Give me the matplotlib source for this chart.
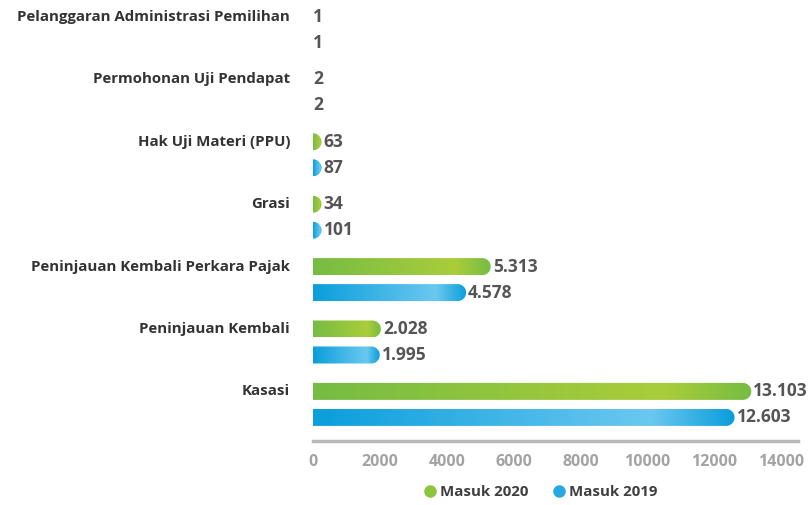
import numpy as np
import matplotlib
matplotlib.use("Agg")
import matplotlib.pyplot as plt
from matplotlib.path import Path
from matplotlib.patches import PathPatch
from matplotlib.colors import LinearSegmentedColormap
from matplotlib.lines import Line2D

plt.rcParams["font.family"] = ["Open Sans", "DejaVu Sans"]
plt.rcParams["font.weight"] = "bold"

categories = [
    "Pelanggaran Administrasi Pemilihan",
    "Permohonan Uji Pendapat",
    "Hak Uji Materi (PPU)",
    "Grasi",
    "Peninjauan Kembali Perkara Pajak",
    "Peninjauan Kembali",
    "Kasasi",
]
masuk_2020 = [1, 2, 63, 34, 5313, 2028, 13103]
masuk_2019 = [1, 2, 87, 101, 4578, 1995, 12603]
xticks = [0, 2000, 4000, 6000, 8000, 10000, 12000, 14000]

green_cmap = LinearSegmentedColormap.from_list(
    "g", [(0, "#76bc43"), (0.8, "#aacd3a"), (1, "#76bc43")])
blue_cmap = LinearSegmentedColormap.from_list(
    "b", [(0, "#0a9edb"), (0.8, "#6bc8f0"), (1, "#0a9edb")])

W, H = 809, 505
fig = plt.figure(figsize=(W / 100, H / 100), dpi=100)
ax = fig.add_axes([313 / W, 1 - 441 / H, 485 / W, 441 / H])

group_gap = 62.4          # px between groups
inner = 26 / group_gap    # offset of 2019 bar below 2020 bar
bar_h = 17 / group_gap
ax.set_xlim(0, 14500)
ax.set_ylim((441 - 17) / group_gap, -17 / group_gap)

p0 = ax.transData.transform((0, 0))
p1 = ax.transData.transform((1000, 1))
px_per_x = (p1[0] - p0[0]) / 1000
rx = 8.5 / px_per_x       # cap radius in x units


def rounded_bar(v, y, cmap):
    end = max(v, rx)
    cs = end - rx
    t = np.linspace(-np.pi / 2, np.pi / 2, 40)
    verts = [(0, y - bar_h / 2), (cs, y - bar_h / 2)]
    verts += [(cs + rx * np.cos(a), y + bar_h / 2 * np.sin(a)) for a in t]
    verts += [(0, y + bar_h / 2), (0, y - bar_h / 2)]
    patch = PathPatch(Path(verts), facecolor="none", edgecolor="none")
    ax.add_patch(patch)
    grad = np.linspace(0, 1, 256).reshape(1, -1)
    im = ax.imshow(grad, cmap=cmap, aspect="auto", interpolation="bilinear",
                   extent=(0, end, y + bar_h / 2, y - bar_h / 2), zorder=2)
    im.set_clip_path(patch)
    return end


def fmt(v):
    return f"{v:,}".replace(",", ".")


for i, cat in enumerate(categories):
    for v, dy, cmap in [(masuk_2020[i], 0, green_cmap), (masuk_2019[i], inner, blue_cmap)]:
        y = i + dy
        # the smallest counts get no visible bar in the original
        end = rounded_bar(v, y, cmap) if v >= 10 else 0
        ax.annotate(fmt(v), xy=(end, y), xytext=(2 if end else 0, 0),
                    textcoords="offset pixels", ha="left", va="center",
                    fontsize=12.5, color="#555555", fontweight="bold",
                    annotation_clip=False)
    ax.annotate(cat, xy=(0, i), xytext=(-23, 0), textcoords="offset pixels",
                ha="right", va="center", fontsize=10.8, color="#333333",
                fontweight="bold", annotation_clip=False)

ax.set_xlim(0, 14500)
ax.set_ylim((441 - 17) / group_gap, -17 / group_gap)
ax.set_yticks([])
ax.set_xticks(xticks)
ax.set_xticklabels([str(t) for t in xticks])
ax.tick_params(axis="x", length=0, pad=9, labelsize=11.5, labelcolor="#a3a3a3")
for s in ["top", "right", "left"]:
    ax.spines[s].set_visible(False)
ax.spines["bottom"].set_color("#b8b8b8")
ax.spines["bottom"].set_linewidth(2.5)
ax.patch.set_alpha(0)

handles = [
    Line2D([], [], marker="o", linestyle="none", markersize=9,
           markerfacecolor="#8cc63f", markeredgecolor="none", label="Masuk 2020"),
    Line2D([], [], marker="o", linestyle="none", markersize=9,
           markerfacecolor="#27a8e0", markeredgecolor="none", label="Masuk 2019"),
]
fig.legend(handles=handles, loc="center", bbox_to_anchor=(0.663, 0.026), ncol=2,
           frameon=False, handletextpad=-0.3, columnspacing=1.0,
           prop={"size": 10.8, "weight": "bold"}, labelcolor="#3f3f3f")

fig.savefig("out.png", dpi=100)
